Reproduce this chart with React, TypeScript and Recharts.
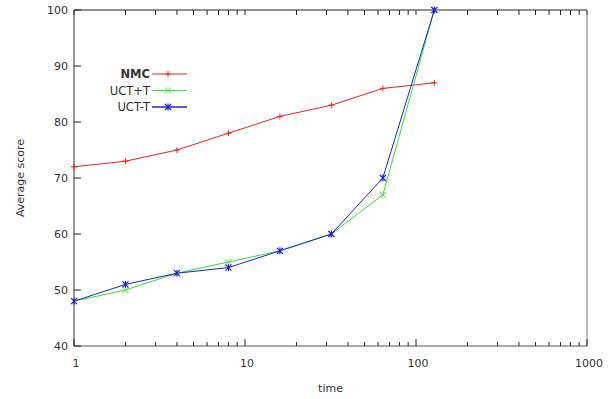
import { LineChart, Line, XAxis, YAxis } from "recharts";

const times = [1, 2, 4, 8, 16, 32, 64, 128];
const nmc = [72, 73, 75, 78, 81, 83, 86, 87];
const uctPlusT = [48, 50, 53, 55, 57, 60, 67, 100];
const uctMinusT = [48, 51, 53, 54, 57, 60, 70, 100];

const majorTicks = [1, 10, 100, 1000];
const minorSteps = [2, 3, 4, 5, 6, 7, 8, 9];
const yTicks = [40, 50, 60, 70, 80, 90, 100];

const xTicks = [
  ...majorTicks,
  ...majorTicks.slice(0, 3).flatMap((m) => minorSteps.map((s) => m * s)),
].sort((a, b) => a - b);

const rows = times.map((t, i) => ({
  t,
  nmc: nmc[i],
  plus: uctPlusT[i],
  minus: uctMinusT[i],
}));

const FONT = "DejaVu Sans, sans-serif";
const TXT = "#333";
const RED = "#ee2020";
const GREEN = "#30e030";
const BLUE = "#2020dd";

const isMajor = (v: number) => majorTicks.includes(v);

function BottomTick({ x, y, payload }: any) {
  const major = isMajor(payload.value);
  return (
    <g>
      <line x1={x} x2={x} y1={y} y2={y - (major ? 7 : 4)} stroke="#222" />
      {major && (
        <text x={x + 2} y={y + 21} textAnchor="middle" fontSize={11} fontFamily={FONT} fill={TXT}>
          {payload.value}
        </text>
      )}
    </g>
  );
}

function LeftTick({ x, y, payload }: any) {
  return (
    <g>
      <line x1={x} x2={x + 7} y1={y} y2={y} stroke="#222" />
      <text x={x - 6} y={y + 4} textAnchor="end" fontSize={11} fontFamily={FONT} fill={TXT}>
        {payload.value}
      </text>
    </g>
  );
}

function plusMark(cx: number, cy: number, c: string) {
  return <path d={`M${cx - 3},${cy}H${cx + 3}M${cx},${cy - 3}V${cy + 3}`} stroke={c} strokeWidth={1} fill="none" />;
}
function crossMark(cx: number, cy: number, c: string) {
  return <path d={`M${cx - 3},${cy - 3}L${cx + 3},${cy + 3}M${cx - 3},${cy + 3}L${cx + 3},${cy - 3}`} stroke={c} strokeWidth={1} fill="none" />;
}
function starMark(cx: number, cy: number, c: string) {
  return (
    <path
      d={`M${cx - 3},${cy - 3}L${cx + 3},${cy + 3}M${cx - 3},${cy + 3}L${cx + 3},${cy - 3}M${cx},${cy - 3.5}V${cy + 3.5}`}
      stroke={c}
      strokeWidth={1.2}
      fill="none"
    />
  );
}

const legendItems = [
  { name: "NMC", color: RED, bold: true, mark: plusMark },
  { name: "UCT+T", color: GREEN, bold: false, mark: crossMark },
  { name: "UCT-T", color: BLUE, bold: false, mark: starMark },
];

function KeyBox() {
  return (
    <svg width={100} height={56} style={{ position: "absolute", left: 95, top: 62 }}>
      {legendItems.map((it, i) => {
        const cy = 12 + i * 16.5;
        return (
          <g key={it.name}>
            <text
              x={55}
              y={cy + 4}
              textAnchor="end"
              fontSize={11.5}
              fontFamily={FONT}
              fontWeight={it.bold ? "bold" : "normal"}
              fill={TXT}
            >
              {it.name}
            </text>
            <line x1={57} x2={92} y1={cy} y2={cy} stroke={it.color} strokeWidth={it.name === "UCT-T" ? 1.5 : 1} />
            {it.mark(73, cy, it.color)}
          </g>
        );
      })}
    </svg>
  );
}

export default function App() {
  return (
    <div style={{ position: "absolute", left: 0, top: 0, width: 612, height: 399, background: "#fff" }}>
      <LineChart width={612} height={399} data={rows} margin={{ top: 0, right: 0, bottom: 0, left: 0 }}>
        <XAxis
          xAxisId="b"
          dataKey="t"
          type="number"
          scale="log"
          domain={[1, 1000]}
          ticks={xTicks}
          interval={0}
          height={53}
          tickSize={0}
          tickMargin={0}
          tickLine={false}
          tick={<BottomTick />}
          axisLine={{ stroke: "#555" }}
          label={{
            value: "time",
            position: "insideBottom",
            offset: 7,
            fontSize: 11,
            fontFamily: FONT,
            fill: TXT,
          }}
        />
        {/* mirrored top axis: inward ticks, no labels */}
        <XAxis
          xAxisId="t"
          orientation="top"
          dataKey="t"
          type="number"
          scale="log"
          domain={[1, 1000]}
          ticks={xTicks}
          interval={0}
          height={10}
          tickSize={-5}
          tickMargin={0}
          tick={{ fill: "none", fontSize: 1 }}
          tickLine={{ stroke: "#222" }}
          axisLine={{ stroke: "#222" }}
        />
        <YAxis
          yAxisId="l"
          type="number"
          domain={[40, 100]}
          ticks={yTicks}
          interval={0}
          width={74}
          tickSize={0}
          tickMargin={0}
          tickLine={false}
          tick={<LeftTick />}
          axisLine={{ stroke: "#333" }}
          label={{
            content: () => (
              <text
                x={24}
                y={178}
                transform="rotate(-90 24 178)"
                textAnchor="middle"
                fontSize={11}
                fontFamily={FONT}
                fill={TXT}
              >
                Average score
              </text>
            ),
          }}
        />
        {/* mirrored right axis */}
        <YAxis
          yAxisId="r"
          orientation="right"
          type="number"
          domain={[40, 100]}
          ticks={yTicks}
          interval={0}
          width={25}
          tickSize={-7}
          tickMargin={0}
          tick={{ fill: "none", fontSize: 1 }}
          tickLine={{ stroke: "#555" }}
          axisLine={{ stroke: "#777" }}
        />
        <Line
          xAxisId="b"
          yAxisId="l"
          dataKey="nmc"
          type="linear"
          stroke={RED}
          strokeWidth={1}
          isAnimationActive={false}
          dot={(p: any) => <g key={`n${p.index}`}>{plusMark(p.cx, p.cy, RED)}</g>}
        />
        <Line
          xAxisId="b"
          yAxisId="l"
          dataKey="plus"
          type="linear"
          stroke={GREEN}
          strokeWidth={1}
          isAnimationActive={false}
          dot={(p: any) => <g key={`p${p.index}`}>{crossMark(p.cx, p.cy, GREEN)}</g>}
        />
        <Line
          xAxisId="b"
          yAxisId="l"
          dataKey="minus"
          type="linear"
          stroke={BLUE}
          strokeWidth={1}
          isAnimationActive={false}
          dot={(p: any) => <g key={`m${p.index}`}>{starMark(p.cx, p.cy, BLUE)}</g>}
        />
      </LineChart>
      <KeyBox />
    </div>
  );
}
